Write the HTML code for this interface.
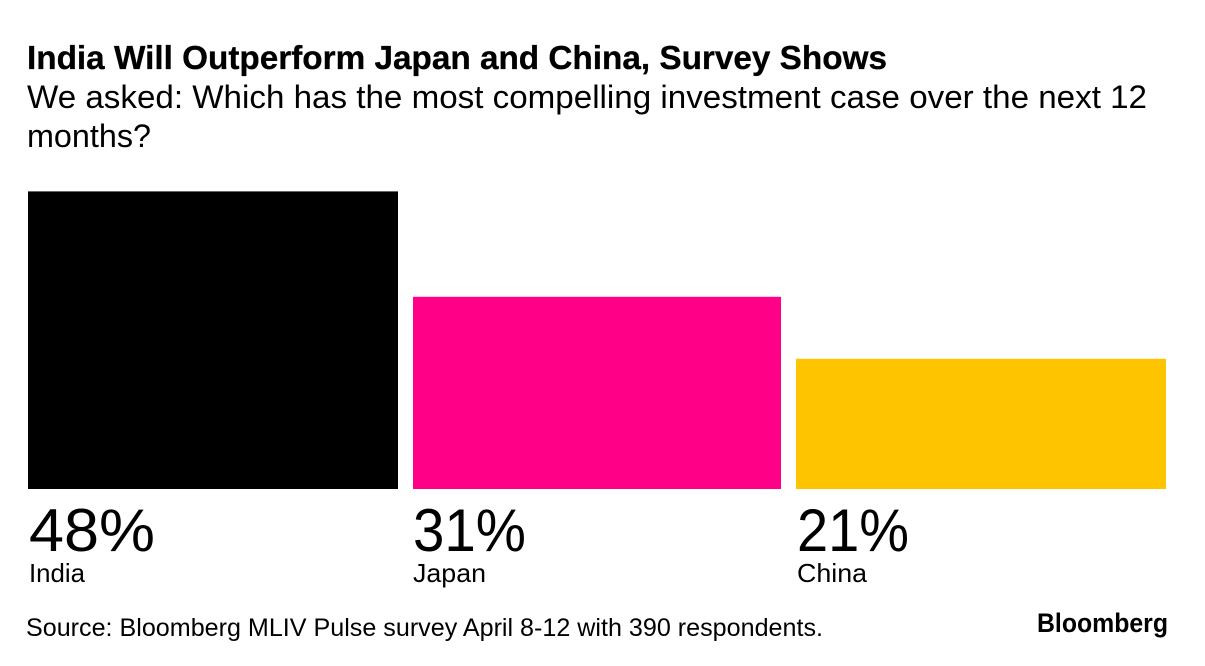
<!DOCTYPE html>
<html lang="en">
<head>
<meta charset="utf-8">
<title>India Will Outperform Japan and China, Survey Shows</title>
<style>
  html, body { margin: 0; padding: 0; background: #fff; }
  body { width: 1205px; height: 666px; overflow: hidden; }
  svg { display: block; }
  text { font-family: "Liberation Sans", Arial, sans-serif; fill: #000; }
</style>
</head>
<body>
<svg id="chart" width="1205" height="666" viewBox="0 0 1205 666" xmlns="http://www.w3.org/2000/svg">
  <rect x="0" y="0" width="1205" height="666" fill="#ffffff"></rect>
  <text x="27" y="69" font-size="33" font-weight="700" stroke="#000" stroke-width="0.3" textLength="860" lengthAdjust="spacingAndGlyphs">India Will Outperform Japan and China, Survey Shows</text>
  <text x="27" y="108" font-size="32" textLength="1120" lengthAdjust="spacingAndGlyphs">We asked: Which has the most compelling investment case over the next 12</text>
  <text x="27" y="147" font-size="32" textLength="124" lengthAdjust="spacingAndGlyphs">months?</text>
  <g id="bars"></g>
  <text x="26" y="636" font-size="25" textLength="797" lengthAdjust="spacingAndGlyphs">Source: Bloomberg MLIV Pulse survey April 8-12 with 390 respondents.</text>
  <text x="1037" y="632" font-size="27" font-weight="700" textLength="131" lengthAdjust="spacingAndGlyphs">Bloomberg</text>
</svg>
<script>
const categories = ['India', 'Japan', 'China'];
const values = [48, 31, 21];
const valueLabels = ['48%', '31%', '21%'];
const barColors = ['#000000', '#ff0087', '#ffc400'];

const svgNS = 'http://www.w3.org/2000/svg';
const group = document.getElementById('bars');
const plotLeft = 28;
const baseline = 489;
const pixelsPerPoint = 6.2;
const slotStep = 384;
const slotWidth = 370;
const fontWidthRatio = 1;

function xScale(i) {
  return plotLeft + i * slotStep;
}
function yScale(v) {
  return baseline - v * pixelsPerPoint;
}
function inset(i) {
  return i > 0 && i < categories.length - 1 ? 1 : 0;
}
/* Reference typeface is tighter on the digit 1 and wider on others; widths derive from the label glyphs. */
function valueLabelWidth(label) {
  let w = 0;
  for (const ch of label) {
    w += ch === '%' ? 56 : ch === '1' ? 23 : ch === '2' ? 33 : ch === '3' ? 34 : 35;
  }
  return w * fontWidthRatio;
}
function categoryLabelWidth(name) {
  return name === 'India' ? 56 : name === 'Japan' ? 73 : 70;
}

categories.forEach(function (name, i) {
  const key = name.toLowerCase();

  const bar = document.createElementNS(svgNS, 'rect');
  
  
  bar.setAttribute('x', xScale(i) + inset(i));
  bar.setAttribute('y', yScale(values[i]));
  bar.setAttribute('width', slotWidth - 2 * inset(i));
  bar.setAttribute('height', baseline - yScale(values[i]));
  bar.setAttribute('fill', barColors[i]);
  group.appendChild(bar);

  const valueText = document.createElementNS(svgNS, 'text');
  
  
  valueText.setAttribute('x', xScale(i) + 1);
  valueText.setAttribute('y', 551);
  valueText.setAttribute('font-size', 60);
  valueText.setAttribute('textLength', valueLabelWidth(valueLabels[i]));
  valueText.setAttribute('lengthAdjust', 'spacingAndGlyphs');
  valueText.textContent = valueLabels[i];
  group.appendChild(valueText);

  const nameText = document.createElementNS(svgNS, 'text');
  
  
  nameText.setAttribute('x', xScale(i) + 1);
  nameText.setAttribute('y', 582);
  nameText.setAttribute('font-size', 26);
  nameText.setAttribute('textLength', categoryLabelWidth(name));
  nameText.setAttribute('lengthAdjust', 'spacingAndGlyphs');
  nameText.textContent = name;
  group.appendChild(nameText);
});
</script>
</body>
</html>
